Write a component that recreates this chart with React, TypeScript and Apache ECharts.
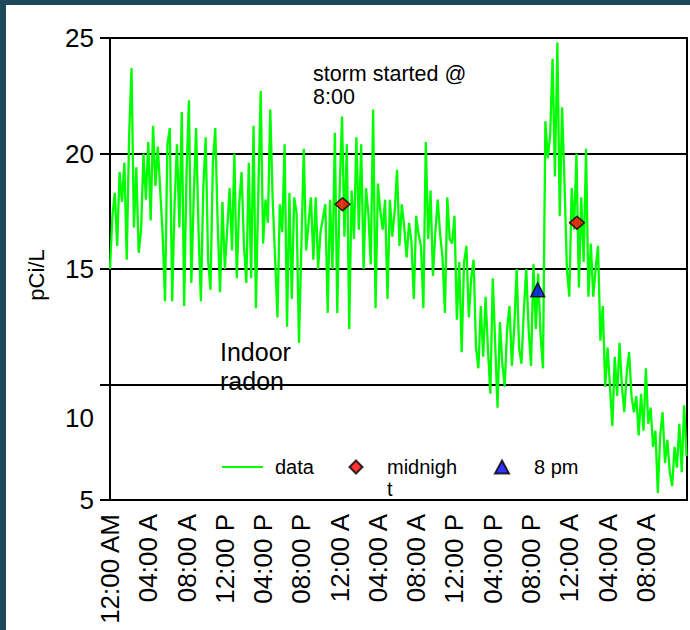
import React, { useEffect, useRef } from 'react';
import * as echarts from 'echarts';

const xLabels = ['12:00 AM', '04:00 A', '08:00 A', '12:00 P', '04:00 P', '08:00 P', '12:00 A', '04:00 A', '08:00 A', '12:00 P', '04:00 P', '08:00 P', '12:00 A', '04:00 A', '08:00 A'];

const stepHours = 0.25;

const radonDay1 = [
  15.0, 17.3, 18.3, 16.0, 19.2, 17.9, 19.6, 15.4, 20.8, 23.7, 16.8, 19.4, 15.7, 16.7, 20.0, 18.0,
  20.5, 17.1, 21.2, 18.6, 20.3, 18.4, 16.5, 13.6, 20.4, 21.1, 13.6, 17.8, 20.4, 16.8, 21.8, 13.4,
  19.2, 22.3, 14.4, 18.1, 21.1, 16.7, 13.6, 18.5, 20.7, 15.4, 14.1, 19.6, 21.1, 17.0, 14.0, 17.9,
  15.0, 16.7, 18.5, 15.8, 20.0, 14.6, 17.8, 19.2, 16.0, 14.4, 19.6, 14.6, 21.2, 13.3, 18.3, 22.7,
  16.1, 18.0, 17.0, 21.9, 18.0, 15.5, 12.9, 17.8, 16.6, 20.4, 12.5, 18.3, 13.7, 18.1, 17.4, 11.8,
  16.0, 20.2, 15.8, 17.0, 18.1, 15.4, 18.1, 15.0, 16.6, 17.2, 17.8, 13.1, 18.0, 15.0, 20.9, 13.1,
];

const radonDay2 = [
  18.4, 21.6, 16.4, 20.4, 12.4, 18.4, 16.3, 20.7, 16.7, 20.4, 15.0, 18.5, 17.4, 15.2, 21.9, 13.3,
  18.7, 17.5, 16.7, 18.0, 13.7, 18.0, 16.4, 17.5, 19.3, 16.0, 17.8, 16.8, 15.5, 17.0, 16.2, 13.7,
  17.3, 16.5, 16.0, 13.3, 20.5, 16.3, 18.4, 14.7, 16.6, 18.0, 16.5, 15.5, 13.1, 18.1, 16.3, 16.1,
  17.3, 12.8, 15.3, 11.4, 15.3, 16.0, 12.9, 14.6, 15.4, 11.6, 10.7, 13.4, 11.2, 13.8, 11.5, 9.6,
  14.6, 11.8, 9.0, 12.7, 10.9, 9.9, 12.4, 13.4, 10.8, 12.5, 15.0, 11.6, 10.9, 13.2, 15.0, 12.4,
  10.8, 15.2, 12.4, 14.8, 12.1, 10.7, 21.4, 19.8, 20.8, 24.1, 19.0, 24.8, 17.3, 22.0, 18.7, 15.0,
];

const radonDay3 = [
  13.8, 18.5, 16.7, 20.0, 14.2, 18.1, 15.3, 20.2, 13.8, 16.1, 13.8, 15.0, 16.0, 11.9, 13.4, 9.9,
  11.6, 9.9, 8.2, 11.2, 9.5, 11.8, 9.9, 8.8, 10.5, 11.4, 9.5, 8.8, 9.5, 7.8, 9.6, 8.0,
  10.7, 8.3, 9.0, 7.3, 8.0, 5.3, 7.8, 8.8, 6.6, 7.6, 6.2, 5.6, 7.3, 6.4, 8.3, 6.2,
  9.1, 6.9,
];

const midnightHours = [24.3, 48.8];
const midnightValues = [17.8, 17.0];
const eightPmHours = [44.7];
const eightPmValues = [14.1];

const font = "'Liberation Sans', Arial, sans-serif";
const frameColor = '#1d4a5a';

export default function App() {
  const ref = useRef<HTMLDivElement>(null);

  useEffect(() => {
    if (!ref.current) return;
    const chart = echarts.init(ref.current, null, { renderer: 'svg' });
    const radon = [...radonDay1, ...radonDay2, ...radonDay3];
    const lineData = radon.map((v, i) => [i * stepHours, v]);
    const legendText = (pad: number) => ({ fontSize: 20, lineHeight: 22, color: '#000', fontFamily: font, padding: [0, 0, 0, pad] });

    chart.setOption({
      animation: false,
      backgroundColor: '#ffffff',
      textStyle: { fontFamily: font },
      graphic: [
        { type: 'rect', shape: { x: 0, y: 0, width: 690, height: 5 }, style: { fill: frameColor }, z: 100 },
        { type: 'rect', shape: { x: 0, y: 0, width: 6, height: 630 }, style: { fill: frameColor }, z: 100 },
        {
          type: 'text', left: 313, top: 62, z: 50,
          style: { text: 'storm started @\n8:00', fontSize: 21.5, lineHeight: 23, fontFamily: font, fill: '#000' },
        },
        {
          type: 'text', left: 220, top: 337, z: 50,
          style: { text: 'Indoor\nradon', fontSize: 25, lineHeight: 29, fontFamily: font, fill: '#000' },
        },
      ],
      grid: { left: 110, right: 3, top: 38, bottom: 130, show: true, borderColor: '#000', borderWidth: 2, backgroundColor: 'transparent' },
      legend: [
        {
          data: [{ name: 'data', icon: 'rect' }], left: 222, top: 456, padding: 0, itemWidth: 41, itemHeight: 2,
          textStyle: legendText(7),
        },
        {
          data: ['midnight'], left: 348.5, top: 434, padding: 0, itemWidth: 13, itemHeight: 13,
          formatter: () => '\nmidnigh\nt', textStyle: legendText(19.5),
        },
        {
          data: ['8 pm'], left: 494, top: 456, padding: 0, itemWidth: 14, itemHeight: 13,
          textStyle: legendText(20),
        },
      ],
      xAxis: {
        type: 'value',
        min: 0,
        max: 60.3,
        interval: 4,
        axisLine: { show: true, lineStyle: { color: '#000', width: 2 } },
        axisTick: { show: false },
        splitLine: { show: false },
        axisLabel: {
          rotate: 90,
          margin: 14,
          fontSize: 26,
          color: '#000',
          fontFamily: font,
          showMaxLabel: false,
          formatter: (v: number) => {
            const idx = Math.round(v / 4);
            return xLabels[idx] ?? '';
          },
        },
      },
      yAxis: {
        type: 'value',
        min: 5,
        max: 25,
        interval: 5,
        name: 'pCi/L',
        nameLocation: 'middle',
        nameGap: 63,
        nameTextStyle: { fontSize: 22, color: '#000', fontFamily: font, padding: [0, 12, 0, 0] },
        axisLine: { show: true, lineStyle: { color: '#000', width: 2 } },
        axisTick: { show: true, length: 10, lineStyle: { color: '#000', width: 2 } },
        splitLine: { show: true, lineStyle: { color: '#000', width: 2 } },
        axisLabel: {
          margin: 16,
          fontSize: 26,
          color: '#000',
          fontFamily: font,
          formatter: (v: number) => (v === 10 ? '{low|10}' : String(v)),
          rich: { low: { padding: [66, 0, 0, 0], fontSize: 26, color: '#000', fontFamily: font } },
        },
      },
      series: [
        {
          type: 'line',
          name: 'data',
          data: lineData,
          symbol: 'none',
          showSymbol: false,
          lineStyle: { color: '#00ff00', width: 2.3 },
          itemStyle: { color: '#00ff00' },
          z: 2,
        },
        {
          type: 'scatter',
          name: 'midnight',
          data: midnightHours.map((h, i) => [h, midnightValues[i]]),
          symbol: 'diamond',
          symbolSize: [15, 13],
          itemStyle: { color: '#ff0000', borderColor: '#000', borderWidth: 1.5 },
          z: 3,
        },
        {
          type: 'scatter',
          name: '8 pm',
          data: eightPmHours.map((h, i) => [h, eightPmValues[i]]),
          symbol: 'triangle',
          symbolSize: 14,
          itemStyle: { color: '#0000ff', borderColor: '#000', borderWidth: 1.5 },
          z: 3,
        },
      ],
    });

    return () => chart.dispose();
  }, []);

  return <div ref={ref} style={{ position: 'fixed', left: 0, top: 0, width: 690, height: 630 }} />;
}
